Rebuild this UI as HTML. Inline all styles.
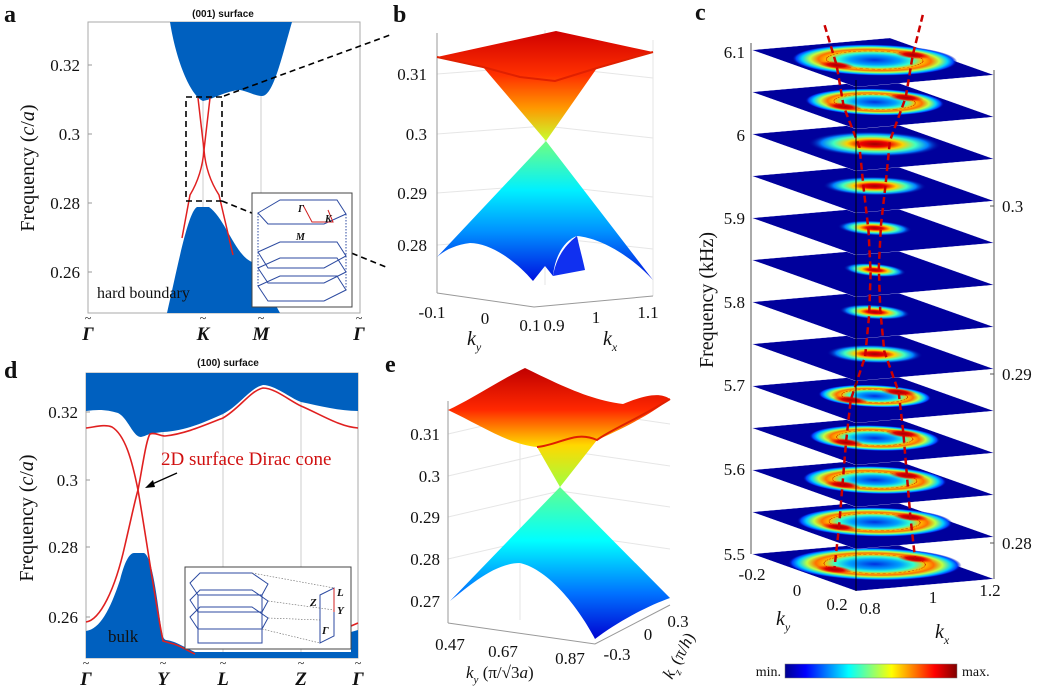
<!DOCTYPE html>
<html><head><meta charset="utf-8"><style>
html,body{margin:0;padding:0;background:#fff;}
svg{display:block;}
text{font-family:"Liberation Serif",serif;fill:#111;}
.t{font-size:17px;}
.lab{font-family:"Liberation Serif",serif;font-weight:bold;font-size:24px;}
.sans{font-family:"Liberation Sans",sans-serif;font-weight:bold;font-size:10px;}
</style></head><body>
<svg id="s" width="1039" height="691" viewBox="0 0 1039 691" xmlns="http://www.w3.org/2000/svg">
<defs>
<linearGradient id="bU" gradientUnits="userSpaceOnUse" x1="0" y1="31" x2="0" y2="141">
<stop offset="0" stop-color="#d00000"/><stop offset="0.4" stop-color="#ff3000"/><stop offset="0.7" stop-color="#ff9800"/><stop offset="1" stop-color="#c8ff30"/></linearGradient>
<linearGradient id="bL" gradientUnits="userSpaceOnUse" x1="0" y1="141" x2="0" y2="281">
<stop offset="0" stop-color="#70ff80"/><stop offset="0.35" stop-color="#00f0ff"/><stop offset="0.65" stop-color="#0090ff"/><stop offset="1" stop-color="#0010e0"/></linearGradient>
<linearGradient id="eU" gradientUnits="userSpaceOnUse" x1="0" y1="368" x2="0" y2="487">
<stop offset="0" stop-color="#c00000"/><stop offset="0.35" stop-color="#ff2800"/><stop offset="0.65" stop-color="#ffd800"/><stop offset="1" stop-color="#a0ff40"/></linearGradient>
<linearGradient id="eL" gradientUnits="userSpaceOnUse" x1="0" y1="487" x2="0" y2="640">
<stop offset="0" stop-color="#60ff90"/><stop offset="0.35" stop-color="#00ffff"/><stop offset="0.7" stop-color="#0070ff"/><stop offset="1" stop-color="#0000d0"/></linearGradient>
<linearGradient id="jet" x1="0" y1="0" x2="1" y2="0">
<stop offset="0" stop-color="#00008f"/><stop offset="0.12" stop-color="#0000ff"/><stop offset="0.37" stop-color="#00ffff"/><stop offset="0.62" stop-color="#ffff00"/><stop offset="0.87" stop-color="#ff0000"/><stop offset="1" stop-color="#800000"/></linearGradient>
<radialGradient id="ring">
<stop offset="0" stop-color="#0030e0"/><stop offset="0.3" stop-color="#00a0ff"/><stop offset="0.45" stop-color="#30ffd0"/><stop offset="0.58" stop-color="#ffc000"/><stop offset="0.68" stop-color="#ff7000"/><stop offset="0.78" stop-color="#c0ff40"/><stop offset="0.88" stop-color="#00d0ff"/><stop offset="0.95" stop-color="#0040ff"/><stop offset="1" stop-color="#00009c" stop-opacity="0"/></radialGradient>
<radialGradient id="blob">
<stop offset="0" stop-color="#a00000"/><stop offset="0.22" stop-color="#ee0000"/><stop offset="0.42" stop-color="#ffd000"/><stop offset="0.62" stop-color="#40ffc0"/><stop offset="0.8" stop-color="#0080ff"/><stop offset="1" stop-color="#00009c" stop-opacity="0"/></radialGradient>
<radialGradient id="hot">
<stop offset="0" stop-color="#a00000"/><stop offset="0.5" stop-color="#e00000"/><stop offset="1" stop-color="#ff3000" stop-opacity="0"/></radialGradient>
</defs>

<!-- ========== Panel a ========== -->
<text x="4" y="22" class="lab">a</text>
<text x="223" y="17" class="sans" text-anchor="middle">(001) surface</text>
<rect x="88" y="22" width="272" height="291" fill="#fff" stroke="#aaa"/>
<line x1="203" y1="22" x2="203" y2="313" stroke="#ccc"/>
<line x1="261" y1="22" x2="261" y2="313" stroke="#ccc"/>
<path d="M170,22 C176,60 190,95 203,101 C214,99 225,91 240,90 C250,92 255,96 262,96 C273,96 281,60 292,22 Z" fill="#0060bf"/>
<path d="M167,313 C178,265 188,212 197,207 L209,207 C225,218 235,255 252,262 L280,313 Z" fill="#0060bf"/>
<path d="M198,98 L204,150 Q206,175 219,195 L233,255" fill="none" stroke="#e02020" stroke-width="1.5"/>
<path d="M210,98 L204,150 Q202,175 190,195 L182,238" fill="none" stroke="#e02020" stroke-width="1.5"/>
<rect x="186" y="97" width="36" height="104" fill="none" stroke="#000" stroke-width="1.6" stroke-dasharray="6,4"/>
<line x1="224" y1="96" x2="390" y2="35" stroke="#000" stroke-width="1.6" stroke-dasharray="6,4"/>
<line x1="222" y1="201" x2="386" y2="267" stroke="#000" stroke-width="1.6" stroke-dasharray="6,4"/>
<g stroke="#999"><line x1="88" y1="65" x2="92" y2="65"/><line x1="88" y1="134" x2="92" y2="134"/><line x1="88" y1="203" x2="92" y2="203"/><line x1="88" y1="272" x2="92" y2="272"/></g>
<text x="80" y="71" class="t" text-anchor="end">0.32</text>
<text x="80" y="140" class="t" text-anchor="end">0.3</text>
<text x="80" y="209" class="t" text-anchor="end">0.28</text>
<text x="80" y="278" class="t" text-anchor="end">0.26</text>
<text transform="translate(34,168) rotate(-90)" font-size="20" text-anchor="middle">Frequency (<tspan font-style="italic">c</tspan>/<tspan font-style="italic">a</tspan>)</text>
<text x="97" y="298" font-size="16">hard boundary</text>
<g font-size="19" font-weight="bold" font-style="italic" text-anchor="middle">
<text x="88" y="340">Γ</text><text x="203" y="340">K</text><text x="261" y="340">M</text><text x="359" y="340">Γ</text></g>
<g font-size="12" text-anchor="middle"><text x="88" y="322">~</text><text x="203" y="322">~</text><text x="261" y="322">~</text><text x="359" y="322">~</text></g>
<!-- inset a -->
<rect x="252" y="193" width="100" height="114" fill="#fff" stroke="#444"/>
<g fill="none" stroke="#2c4aa0" stroke-width="1">
<path d="M258,213 L280,200 L337,200 L346,214 L324,224 L268,224 Z"/>
<path d="M258,252 L280,242 L337,242 L346,256 L324,268 L268,268 Z"/>
<path d="M258,268 L280,258 L337,258 L346,272 L324,283 L268,283 Z"/>
<path d="M258,286 L280,276 L337,276 L346,290 L324,301 L268,301 Z"/>
<path d="M258,213 L258,286 M346,214 L346,290" stroke-dasharray="1.5,1.5"/>
</g>
<path d="M303,205 L312,222 L333,222 L328,210" fill="none" stroke="#d02020"/>
<text x="298" y="212" font-size="10" font-style="italic" font-weight="bold">Γ</text>
<text x="325" y="222" font-size="10" font-style="italic" font-weight="bold">K</text>
<text x="296" y="240" font-size="10" font-style="italic" font-weight="bold">M</text>

<!-- ========== Panel d ========== -->
<text x="4" y="378" class="lab">d</text>
<text x="228" y="366" class="sans" text-anchor="middle">(100) surface</text>
<rect x="86" y="373" width="272" height="285" fill="#fff" stroke="#aaa"/>
<g stroke="#ccc"><line x1="163" y1="373" x2="163" y2="658"/><line x1="223" y1="373" x2="223" y2="658"/><line x1="301" y1="373" x2="301" y2="658"/></g>
<path d="M86,373 L86,411 C100,409 108,410 118,413 C128,418 133,437 141,437 C146,436 150,433 155,433 L163,432 C185,431 205,422 223,414 C240,405 250,388 263,385 C275,385 290,398 301,402 C320,406 340,411 358,411 L358,373 Z" fill="#0060bf"/>
<path d="M86,658 L86,631 C100,629 110,610 120,580 C125,560 130,553 134,553 L144,553 C150,555 155,580 160,620 C162,635 163,639 166,640 C175,641 182,646 195,652 L351,652 L351,632 L358,630 L358,658 Z" fill="#0060bf"/>
<path d="M86,428 C95,427 105,424 112,427 C125,435 132,460 138,490 C145,530 155,600 163,641 L170,643 C180,645 186,650 195,654" fill="none" stroke="#e02020" stroke-width="1.6"/>
<path d="M86,622 C100,620 115,590 125,545 C132,515 135,500 138,490 C142,470 146,440 150,434 C155,432 160,436 165,436 C185,434 205,425 223,418 C240,408 250,391 263,388 C275,388 290,401 301,406 C320,414 340,427 358,428" fill="none" stroke="#e02020" stroke-width="1.6"/>
<path d="M351,626 L358,623" stroke="#e02020" stroke-width="1.6"/>
<g stroke="#999"><line x1="86" y1="412" x2="90" y2="412"/><line x1="86" y1="480" x2="90" y2="480"/><line x1="86" y1="547" x2="90" y2="547"/><line x1="86" y1="617" x2="90" y2="617"/></g>
<text x="78" y="418" class="t" text-anchor="end">0.32</text>
<text x="78" y="486" class="t" text-anchor="end">0.3</text>
<text x="78" y="553" class="t" text-anchor="end">0.28</text>
<text x="78" y="623" class="t" text-anchor="end">0.26</text>
<text transform="translate(33,518) rotate(-90)" font-size="20" text-anchor="middle">Frequency (<tspan font-style="italic">c</tspan>/<tspan font-style="italic">a</tspan>)</text>
<text x="161" y="465" font-size="19" style="fill:#d01010">2D surface Dirac cone</text>
<line x1="177" y1="473" x2="150" y2="485" stroke="#000" stroke-width="1.3"/>
<path d="M145,488 L153,480 L155,487 Z" fill="#000"/>
<text x="108" y="642" font-size="17">bulk</text>
<g font-size="19" font-weight="bold" font-style="italic" text-anchor="middle">
<text x="86" y="685">Γ</text><text x="163" y="685">Y</text><text x="223" y="685">L</text><text x="301" y="685">Z</text><text x="358" y="685">Γ</text></g>
<g font-size="12" text-anchor="middle"><text x="86" y="667">~</text><text x="163" y="667">~</text><text x="223" y="667">~</text><text x="301" y="667">~</text><text x="358" y="667">~</text></g>
<!-- inset d -->
<rect x="185" y="567" width="166" height="82" fill="#fff" stroke="#444"/>
<g fill="none" stroke="#2c4aa0" stroke-width="1">
<path d="M190,583 L200,573 L252,573 L268,584 L262,595 L198,595 Z"/>
<path d="M190,600 L200,590 L252,590 L268,601 L262,612 L198,612 Z"/>
<path d="M190,617 L200,607 L252,607 L268,618 L262,629 L198,629 Z"/>
<path d="M198,595 L198,643 L262,643 L262,595"/>
<path d="M320,595 L334,588 L334,636 L320,643 Z"/>
</g>
<g stroke="#666" stroke-width="0.6" stroke-dasharray="1.5,1.5"><line x1="252" y1="573" x2="334" y2="588"/><line x1="268" y1="601" x2="334" y2="610"/><line x1="262" y1="629" x2="320" y2="643"/><line x1="268" y1="618" x2="320" y2="620"/></g>
<line x1="334" y1="588" x2="334" y2="612" stroke="#d02020"/>
<text x="337" y="596" font-size="11" font-style="italic" font-weight="bold">L</text>
<text x="337" y="614" font-size="11" font-style="italic" font-weight="bold">Y</text>
<text x="310" y="606" font-size="11" font-style="italic" font-weight="bold">Z</text>
<text x="322" y="634" font-size="11" font-style="italic" font-weight="bold">Γ</text>

<!-- ========== Panel b ========== -->
<text x="393" y="22" class="lab">b</text>
<g stroke="#e6e6e6" fill="none">
<path d="M437,74 L545,66 L653,78"/><path d="M437,134 L545,126 L653,138"/><path d="M437,193 L545,185 L653,197"/><path d="M437,245 L545,237 L653,249"/>
<path d="M545,30 L545,285 M653,40 L653,296"/>
</g>
<line x1="437" y1="33" x2="437" y2="293" stroke="#999"/>
<path d="M437,293 L534,307 L653,296" fill="none" stroke="#999"/>
<path d="M546,141 L653,280 C630,255 600,238 577,236 C565,240 555,255 553,276 L545,266 L533,281 C515,260 490,243 470,243 C455,245 445,250 437,257 Z" fill="url(#bL)"/>
<path d="M553,276 C556,258 565,245 577,236 C580,250 583,260 585,270 Z" fill="#1030f0"/>
<path d="M437,57 L556,31 L653,52 L597,68 L546,141 L483,67 Z" fill="url(#bU)"/>
<path d="M437,57 L483,67 L520,77 L555,81 L597,68 L653,52" fill="none" stroke="#e02000" stroke-width="2"/>
<text x="427" y="80" class="t" text-anchor="end">0.31</text>
<text x="427" y="140" class="t" text-anchor="end">0.3</text>
<text x="427" y="199" class="t" text-anchor="end">0.29</text>
<text x="427" y="251" class="t" text-anchor="end">0.28</text>
<text x="432" y="318" class="t" text-anchor="middle">-0.1</text>
<text x="485" y="324" class="t" text-anchor="middle">0</text>
<text x="530" y="331" class="t" text-anchor="middle">0.1</text>
<text x="554" y="331" class="t" text-anchor="middle">0.9</text>
<text x="596" y="323" class="t" text-anchor="middle">1</text>
<text x="648" y="318" class="t" text-anchor="middle">1.1</text>
<text x="467" y="345" font-size="20" font-style="italic">k<tspan font-size="12" dy="6">y</tspan></text>
<text x="603" y="345" font-size="20" font-style="italic">k<tspan font-size="12" dy="6">x</tspan></text>

<!-- ========== Panel e ========== -->
<text x="385" y="372" class="lab">e</text>
<g stroke="#e6e6e6" fill="none">
<path d="M448,434 L560,408 L670,424"/><path d="M448,476 L560,450 L670,466"/><path d="M448,517 L560,491 L670,507"/><path d="M448,559 L560,533 L670,549"/>
<path d="M520,378 L520,620 M560,395 L560,580"/>
</g>
<line x1="448" y1="401" x2="448" y2="623" stroke="#999"/>
<path d="M448,623 L595,644 L670,605" fill="none" stroke="#999"/>
<path d="M560,487 L670,598 C650,605 620,620 595,639 C580,610 550,570 520,563 C495,563 470,585 450,601 Z" fill="url(#eL)"/>
<path d="M448,410 C470,400 500,380 525,368 C560,385 590,400 623,404 C645,395 660,392 670,399 C650,415 620,430 597,440 L560,487 L537,447 C510,445 480,425 448,410 Z" fill="url(#eU)"/>
<path d="M537,447 C560,445 575,430 597,440 C610,430 640,418 670,399" fill="none" stroke="#e02000" stroke-width="2"/>
<text x="440" y="440" class="t" text-anchor="end">0.31</text>
<text x="440" y="482" class="t" text-anchor="end">0.3</text>
<text x="440" y="523" class="t" text-anchor="end">0.29</text>
<text x="440" y="565" class="t" text-anchor="end">0.28</text>
<text x="440" y="607" class="t" text-anchor="end">0.27</text>
<text x="450" y="650" class="t" text-anchor="middle">0.47</text>
<text x="503" y="657" class="t" text-anchor="middle">0.67</text>
<text x="570" y="664" class="t" text-anchor="middle">0.87</text>
<text x="617" y="660" class="t" text-anchor="middle">-0.3</text>
<text x="648" y="640" class="t" text-anchor="middle">0</text>
<text x="678" y="627" class="t" text-anchor="middle">0.3</text>
<text x="466" y="678" font-size="17"><tspan font-style="italic">k</tspan><tspan font-size="11" dy="5" font-style="italic">y</tspan><tspan dy="-5"> (π/√3</tspan><tspan font-style="italic">a</tspan>)</text>
<text transform="translate(672,680) rotate(-62)" font-size="17"><tspan font-style="italic">k</tspan><tspan font-size="11" dy="5" font-style="italic">z</tspan><tspan dy="-5"> (π/</tspan><tspan font-style="italic">h</tspan>)</text>

<!-- ========== Panel c ========== -->
<text x="695" y="20" class="lab">c</text>
<g id="cg"></g>
<line x1="751" y1="43" x2="751" y2="554" stroke="#555"/>
<line x1="994" y1="70" x2="994" y2="579" stroke="#555"/>
<g stroke="#555"><line x1="990" y1="206" x2="994" y2="206"/><line x1="990" y1="374" x2="994" y2="374"/><line x1="990" y1="543" x2="994" y2="543"/></g>
<text x="745" y="58" class="t" text-anchor="end">6.1</text>
<text x="745" y="141" class="t" text-anchor="end">6</text>
<text x="745" y="224" class="t" text-anchor="end">5.9</text>
<text x="745" y="308" class="t" text-anchor="end">5.8</text>
<text x="745" y="391" class="t" text-anchor="end">5.7</text>
<text x="745" y="475" class="t" text-anchor="end">5.6</text>
<text x="745" y="560" class="t" text-anchor="end">5.5</text>
<text x="1002" y="212" class="t">0.3</text>
<text x="1002" y="380" class="t">0.29</text>
<text x="1002" y="549" class="t">0.28</text>
<text transform="translate(713,300) rotate(-90)" font-size="20" text-anchor="middle">Frequency (kHz)</text>
<text x="752" y="580" class="t" text-anchor="middle">-0.2</text>
<text x="797" y="596" class="t" text-anchor="middle">0</text>
<text x="837" y="610" class="t" text-anchor="middle">0.2</text>
<text x="870" y="614" class="t" text-anchor="middle">0.8</text>
<text x="933" y="603" class="t" text-anchor="middle">1</text>
<text x="990" y="596" class="t" text-anchor="middle">1.2</text>
<text x="776" y="625" font-size="20" font-style="italic">k<tspan font-size="12" dy="6">y</tspan></text>
<text x="935" y="638" font-size="20" font-style="italic">k<tspan font-size="12" dy="6">x</tspan></text>
<rect x="785" y="664" width="172" height="14" fill="url(#jet)" stroke="#777" stroke-width="0.5"/>
<text x="781" y="676" font-size="14" text-anchor="end">min.</text>
<text x="962" y="676" font-size="14">max.</text>
</svg>
<script>
(function(){
var NS="http://www.w3.org/2000/svg",g=document.getElementById("cg");
function el(n,a){var e=document.createElementNS(NS,n);for(var k in a)e.setAttribute(k,a[k]);return e;}
var specs=[["r",.36,.30],["r",.30,.26],["b",.28,.24],["b",.22,.18],["b",.15,.15],["b",.12,.14],["b",.14,.15],["b",.2,.18],["r",.24,.22],["r",.28,.25],["r",.31,.27],["r",.34,.28],["r",.38,.31]];
var ax=104,ay=37,bx=138,by=-12,L=[],R=[];
function P(i,u,v){var y0=50+42*i;return [752+ax*u+bx*v,y0+ay*u+by*v];}
for(var i=12;i>=0;i--){
 var y0=50+42*i;
 var s=specs[i];
 var grp=el("g",{transform:"matrix("+ax+","+ay+","+bx+","+by+",752,"+y0+")"});
 grp.appendChild(el("rect",{x:0,y:0,width:1,height:1,fill:"#00009c",stroke:"#ffffff","stroke-width":0.006}));
 var cu=0.45,cv=0.55;
 if(s[0]=="r"){
  grp.appendChild(el("ellipse",{cx:cu,cy:cv,rx:s[2]*1.3,ry:s[1]*1.45,fill:"url(#ring)"}));
  grp.appendChild(el("ellipse",{cx:cu+0.04,cy:cv-s[1]*0.85,rx:0.11,ry:0.1,fill:"url(#hot)"}));
  grp.appendChild(el("ellipse",{cx:cu-0.04,cy:cv+s[1]*0.85,rx:0.11,ry:0.1,fill:"url(#hot)"}));
  grp.appendChild(el("ellipse",{cx:cu,cy:cv,rx:s[2]*0.75,ry:s[1]*0.85,fill:"none",stroke:"#c00000","stroke-width":0.006,"stroke-dasharray":"0.02,0.015"}));
 } else {
  grp.appendChild(el("ellipse",{cx:cu,cy:cv,rx:s[2]*1.3,ry:s[1]*1.5,fill:"url(#blob)"}));
 }
 g.appendChild(grp);
 var d=(s[0]=="r")?s[1]*0.85:s[1]*0.5;
 L[i]=P(i,cu+0.04,cv-d);R[i]=P(i,cu-0.04,cv+d);
}
function pl(arr){var p="";for(var i=0;i<arr.length;i++)p+=arr[i][0].toFixed(1)+","+arr[i][1].toFixed(1)+" ";return p;}
var Lx=[[L[0][0]-12,L[0][1]-40]].concat(L),Rx=[[R[0][0]+10,R[0][1]-40]].concat(R);
g.appendChild(el("polyline",{points:pl(Lx),fill:"none",stroke:"#cc0000","stroke-width":2.5,"stroke-dasharray":"7,4"}));
g.appendChild(el("polyline",{points:pl(Rx),fill:"none",stroke:"#cc0000","stroke-width":2.5,"stroke-dasharray":"7,4"}));
g.appendChild(el("line",{x1:856,y1:80,x2:856,y2:591,stroke:"#000","stroke-width":1}));
})();
</script>
</body></html>
